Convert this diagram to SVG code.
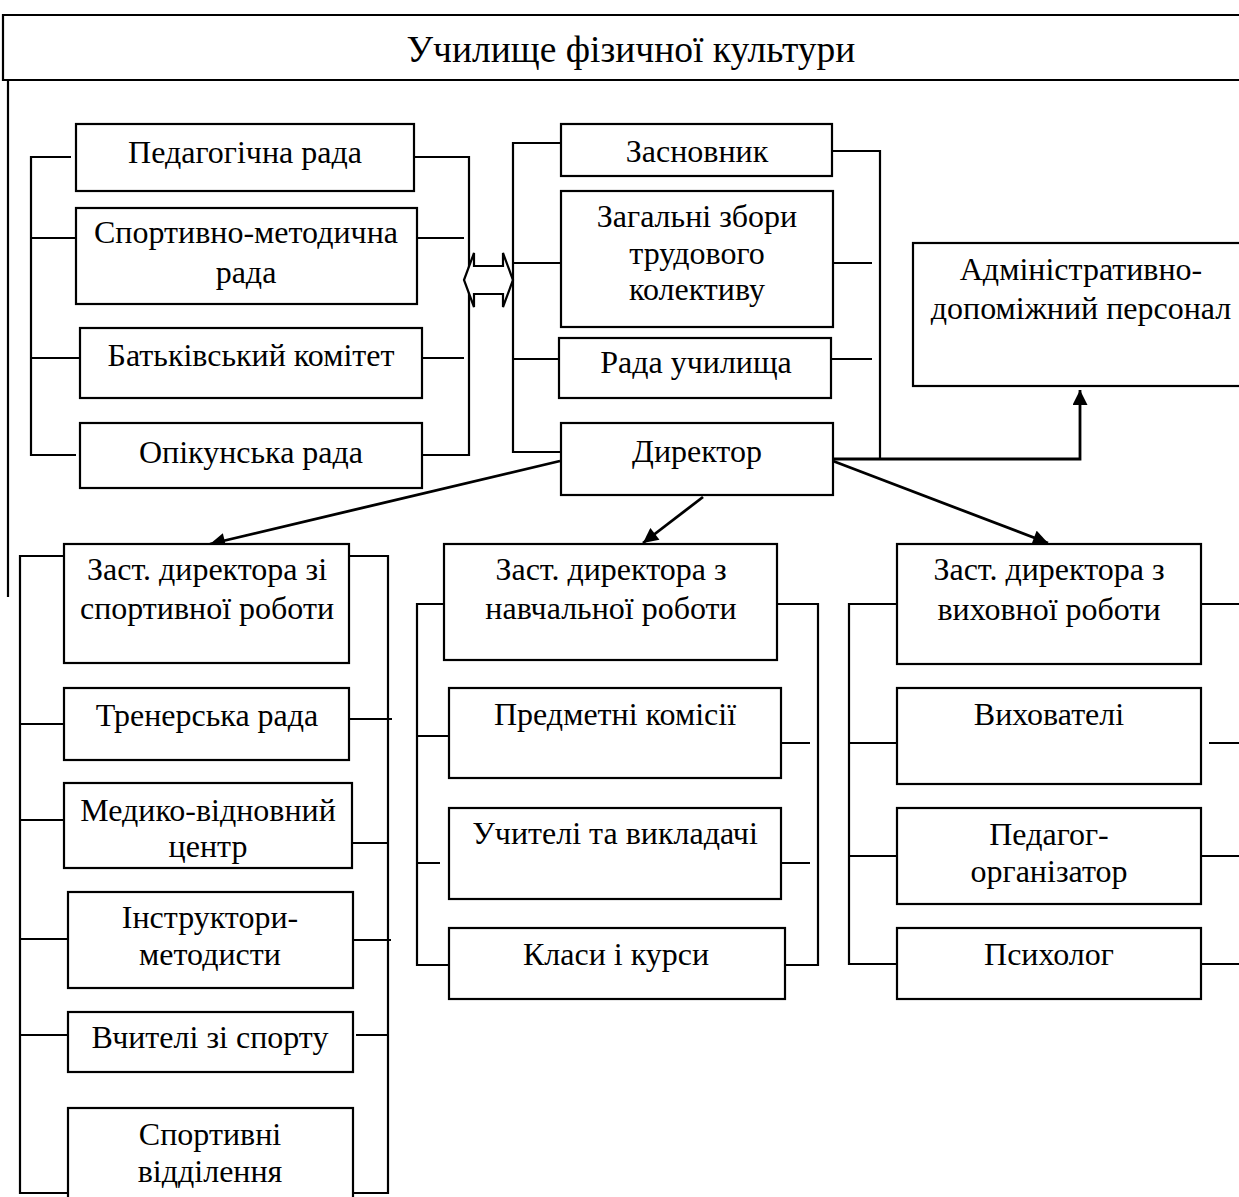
<svg xmlns="http://www.w3.org/2000/svg" width="1239" height="1197" viewBox="0 0 1239 1197">
<defs>
<style>
.b{fill:#fff;stroke:#000;stroke-width:2.2}
.c{fill:none;stroke:#000;stroke-width:2.2}
.a{fill:none;stroke:#000;stroke-width:2.8}
text{font-family:"Liberation Serif","Times New Roman",serif;font-size:32px;fill:#000;text-anchor:middle}
.t{font-size:37.5px}
</style>
<marker id="ah" viewBox="0 0 10 10" refX="10" refY="5" markerUnits="userSpaceOnUse" markerWidth="17" markerHeight="15" orient="auto">
<path d="M0,0 L10,5 L0,10 z" fill="#000"/>
</marker>
</defs>
<rect width="1239" height="1197" fill="#fff"/>

<g id="title">
<path class="c" d="M1239,15 H3 V80 H1239"/>
<text class="t" x="631" y="62">Училище фізичної культури</text>
</g>

<g id="connectors">
<path class="c" d="M8,80 V597"/>
<path class="c" d="M71,157 H31 V455 H76"/>
<path class="c" d="M31,238 H76 M31,358 H80"/>
<path class="c" d="M414,157 H469 V455 H422"/>
<path class="c" d="M417,238 H464 M422,358 H464"/>
<polygon class="b" points="464,280 474,253 474,266 503,266 503,253 513,280 503,307 503,294 474,294 474,307"/>
<path class="c" d="M561,143 H513 V452 H561"/>
<path class="c" d="M513,263 H561 M513,359 H558"/>
<path class="c" d="M832,151 H880 V459"/>
<path class="c" d="M833,263 H872 M831,359 H872"/>
<path class="a" d="M833,459 H1080 V390" marker-end="url(#ah)"/>
<path class="a" d="M560,461 L210,544" marker-end="url(#ah)"/>
<path class="a" d="M703,497 L643,543" marker-end="url(#ah)"/>
<path class="a" d="M833,461 L1048,543" marker-end="url(#ah)"/>
<path class="c" d="M67,556 H20 V1193 H67"/>
<path class="c" d="M341,556 H388 V1193 H340"/>
<path class="c" d="M20,724 H64 M20,820 H64 M20,939 H68 M20,1035 H68"/>
<path class="c" d="M349,719 H392 M352,843 H388 M353,940 H391 M356,1035 H388"/>
<path class="c" d="M444,604 H417 V965 H449"/>
<path class="c" d="M777,604 H818 V965 H785"/>
<path class="c" d="M417,736 H449 M417,863 H440"/>
<path class="c" d="M781,743 H810 M781,863 H810"/>
<path class="c" d="M897,604 H849 V964 H897"/>
<path class="c" d="M849,743 H897 M849,856 H897"/>
<path class="c" d="M1201,604 H1239 M1209,743 H1239 M1201,856 H1239 M1201,964 H1239"/>
</g>

<g id="n-ped"><rect class="b" x="76" y="124" width="338" height="67"/><text x="245" y="163">Педагогічна рада</text></g>
<g id="n-sportmet"><rect class="b" x="76" y="208" width="341" height="96"/><text x="246" y="243">Спортивно-методична</text><text x="246" y="283">рада</text></g>
<g id="n-batk"><rect class="b" x="80" y="328" width="342" height="70"/><text x="251" y="366">Батьківський комітет</text></g>
<g id="n-opik"><rect class="b" x="80" y="423" width="342" height="65"/><text x="251" y="463">Опікунська рада</text></g>

<g id="n-zasn"><rect class="b" x="561" y="124" width="271" height="52"/><text x="697" y="162">Засновник</text></g>
<g id="n-zbory"><rect class="b" x="561" y="191" width="272" height="136"/><text x="697" y="227">Загальні збори</text><text x="697" y="264">трудового</text><text x="697" y="300">колективу</text></g>
<g id="n-rada"><rect class="b" x="559" y="338" width="272" height="60"/><text x="696" y="373">Рада училища</text></g>
<g id="n-dir"><rect class="b" x="561" y="423" width="272" height="72"/><text x="697" y="462">Директор</text></g>

<g id="n-adm"><rect class="b" x="913" y="243" width="340" height="143"/><text x="1081" y="280">Адміністративно-</text><text x="1081" y="319">допоміжний персонал</text></g>

<g id="n-zsport"><rect class="b" x="64" y="544" width="285" height="119"/><text x="207" y="580">Заст. директора зі</text><text x="207" y="619">спортивної роботи</text></g>
<g id="n-trener"><rect class="b" x="64" y="688" width="285" height="72"/><text x="207" y="726">Тренерська рада</text></g>
<g id="n-medyko"><rect class="b" x="64" y="783" width="288" height="85"/><text x="208" y="821">Медико-відновний</text><text x="208" y="857">центр</text></g>
<g id="n-instr"><rect class="b" x="68" y="892" width="285" height="96"/><text x="210" y="928">Інструктори-</text><text x="210" y="965">методисти</text></g>
<g id="n-vchsport"><rect class="b" x="68" y="1012" width="285" height="60"/><text x="210" y="1048">Вчителі зі спорту</text></g>
<g id="n-viddil"><rect class="b" x="68" y="1108" width="285" height="100"/><text x="210" y="1145">Спортивні</text><text x="210" y="1182">відділення</text></g>

<g id="n-znavch"><rect class="b" x="444" y="544" width="333" height="116"/><text x="611" y="580">Заст. директора з</text><text x="611" y="619">навчальної роботи</text></g>
<g id="n-predm"><rect class="b" x="449" y="688" width="332" height="90"/><text x="615" y="725">Предметні комісії</text></g>
<g id="n-uchyt"><rect class="b" x="449" y="808" width="332" height="91"/><text x="615" y="844">Учителі та викладачі</text></g>
<g id="n-klasy"><rect class="b" x="449" y="928" width="336" height="71"/><text x="616" y="965">Класи і курси</text></g>

<g id="n-zvykh"><rect class="b" x="897" y="544" width="304" height="120"/><text x="1049" y="580">Заст. директора з</text><text x="1049" y="620">виховної роботи</text></g>
<g id="n-vykhov"><rect class="b" x="897" y="688" width="304" height="96"/><text x="1049" y="725">Вихователі</text></g>
<g id="n-pedorg"><rect class="b" x="897" y="808" width="304" height="96"/><text x="1049" y="845">Педагог-</text><text x="1049" y="882">організатор</text></g>
<g id="n-psykh"><rect class="b" x="897" y="928" width="304" height="71"/><text x="1049" y="965">Психолог</text></g>
</svg>
